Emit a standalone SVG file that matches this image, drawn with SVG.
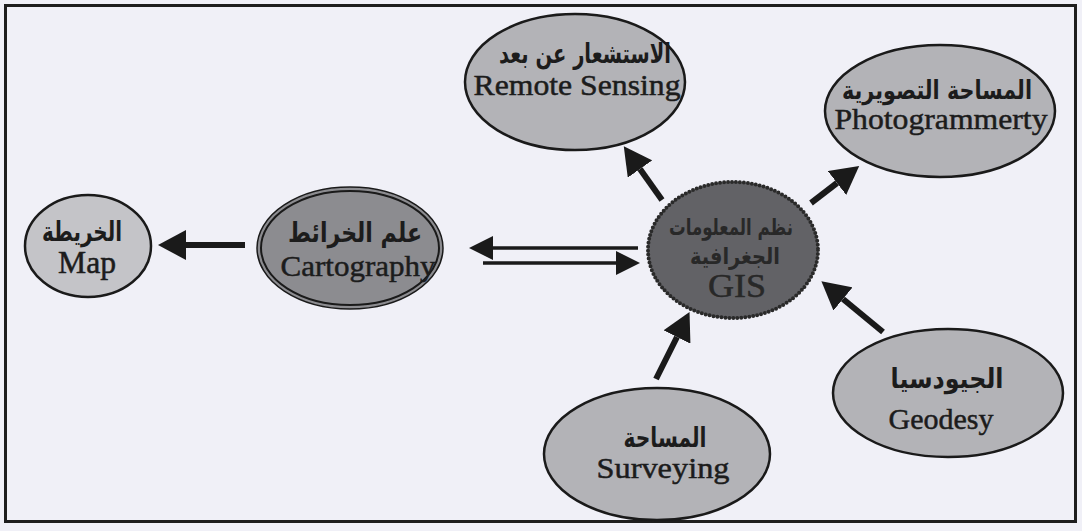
<svg xmlns="http://www.w3.org/2000/svg" width="1082" height="531" viewBox="0 0 1082 531">
<style>
.en{font-family:"Liberation Serif","Times New Roman",serif;font-size:30px;fill:#1c1c1c;stroke:#1c1c1c;stroke-width:0.5;text-anchor:middle}
.ar{font-family:"DejaVu Sans","Noto Sans",sans-serif;font-weight:bold;font-size:27px;fill:#1c1c1c;text-anchor:middle}
.node{fill:#b3b3b7;stroke:#1a1a1a;stroke-width:2.5}
.arr{stroke:#1a1a1a;stroke-width:6;fill:none}
.arr2{stroke:#1a1a1a;stroke-width:3.5;fill:none}
</style>
<defs>
<marker id="ah" markerUnits="userSpaceOnUse" viewBox="0 0 28 30" refX="0" refY="15" markerWidth="28" markerHeight="30" orient="auto">
<path d="M0,0 L28,15 L0,30 z" fill="#1a1a1a"/>
</marker>
<marker id="ah2" markerUnits="userSpaceOnUse" viewBox="0 0 24 24" refX="0" refY="12" markerWidth="24" markerHeight="24" orient="auto">
<path d="M0,0 L24,12 L0,24 z" fill="#1a1a1a"/>
</marker>
</defs>
<rect x="0" y="0" width="1082" height="531" fill="#f0f0f7"/>
<rect x="5.5" y="5.5" width="1070" height="516" fill="none" stroke="#1e1e1e" stroke-width="3"/>

<g id="connectors">
<line class="arr" x1="245" y1="245" x2="186" y2="245" marker-end="url(#ah)"/>
<line class="arr2" x1="638" y1="248" x2="493" y2="248" marker-end="url(#ah2)"/>
<line class="arr2" x1="483" y1="263" x2="616" y2="263" marker-end="url(#ah2)"/>
<line class="arr" x1="662" y1="200" x2="640" y2="169" marker-end="url(#ah)"/>
<line class="arr" x1="811" y1="203" x2="837" y2="183" marker-end="url(#ah)"/>
<line class="arr" x1="656" y1="379" x2="677" y2="337" marker-end="url(#ah)"/>
<line class="arr" x1="883" y1="332" x2="843" y2="299" marker-end="url(#ah)"/>
</g>

<g id="remote-sensing">
<ellipse class="node" cx="575" cy="82" rx="110" ry="68"/>
<text class="ar" x="585" y="63" textLength="172" lengthAdjust="spacingAndGlyphs">الاستشعار عن بعد</text>
<text class="en" x="577" y="95" textLength="207" lengthAdjust="spacingAndGlyphs">Remote Sensing</text>
</g>

<g id="photogrammetry">
<ellipse class="node" cx="940" cy="111" rx="115" ry="66"/>
<text class="ar" x="937" y="99" style="font-size:26px" textLength="190" lengthAdjust="spacingAndGlyphs">المساحة التصويرية</text>
<text class="en" x="941" y="129" textLength="213" lengthAdjust="spacingAndGlyphs">Photogrammerty</text>
</g>

<g id="map">
<ellipse class="node" cx="88" cy="246" rx="63" ry="51" style="fill:#c4c4c8"/>
<text class="ar" x="82" y="241" textLength="80" lengthAdjust="spacingAndGlyphs">الخريطة</text>
<text class="en" x="87" y="273" style="font-size:32px" textLength="58" lengthAdjust="spacingAndGlyphs">Map</text>
</g>

<g id="cartography">
<ellipse cx="350" cy="248" rx="93" ry="61" fill="#8c8c90" stroke="#1a1a1a" stroke-width="1.5"/>
<ellipse cx="350" cy="248" rx="89" ry="57" fill="none" stroke="#1a1a1a" stroke-width="2"/>
<text class="ar" x="355" y="242" textLength="134" lengthAdjust="spacingAndGlyphs">علم الخرائط</text>
<text class="en" x="358" y="276" textLength="155" lengthAdjust="spacingAndGlyphs">Cartography</text>
</g>

<g id="gis">
<ellipse cx="733" cy="250" rx="85" ry="68" fill="#626266" stroke="#2a2a2a" stroke-width="4" stroke-dasharray="0 4" stroke-linecap="round"/>
<text class="ar" x="731" y="235" style="fill:#282828;font-size:23px" textLength="124" lengthAdjust="spacingAndGlyphs">نظم المعلومات</text>
<text class="ar" x="735" y="264" style="fill:#282828;font-size:23px" textLength="90" lengthAdjust="spacingAndGlyphs">الجغرافية</text>
<text class="en" x="737" y="297" style="fill:#282828;stroke:#282828;font-size:33px" textLength="58" lengthAdjust="spacingAndGlyphs">GIS</text>
</g>

<g id="surveying">
<ellipse class="node" cx="657" cy="454" rx="113" ry="66"/>
<text class="ar" x="665" y="447" textLength="83" lengthAdjust="spacingAndGlyphs">المساحة</text>
<text class="en" x="663" y="478" textLength="133" lengthAdjust="spacingAndGlyphs">Surveying</text>
</g>

<g id="geodesy">
<ellipse class="node" cx="948" cy="393" rx="115" ry="64"/>
<text class="ar" x="947" y="388" textLength="113" lengthAdjust="spacingAndGlyphs">الجيودسيا</text>
<text class="en" x="941" y="429" textLength="105" lengthAdjust="spacingAndGlyphs">Geodesy</text>
</g>
</svg>
